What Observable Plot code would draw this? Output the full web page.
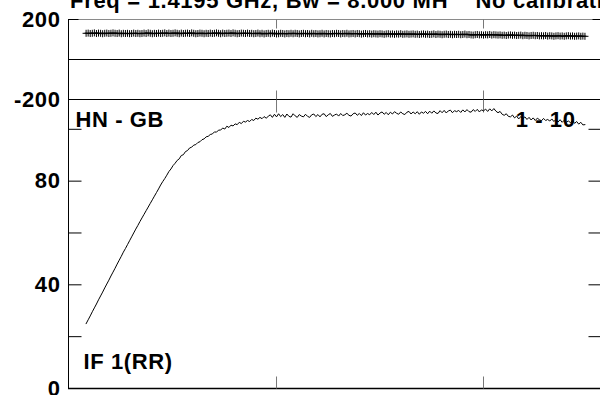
<!DOCTYPE html>
<html><head><meta charset="utf-8">
<script src="https://cdn.jsdelivr.net/npm/d3@7"></script>
<script src="https://cdn.jsdelivr.net/npm/@observablehq/plot@0.6"></script>
<style>
html,body{margin:0;padding:0;background:#fff;}
#wrap{position:relative;width:600px;height:395px;overflow:hidden;background:#fff;font-family:"Liberation Sans",Arial,sans-serif;font-weight:bold;color:#000;}
#wrap svg{position:absolute;left:0;top:0;}
#title{position:absolute;left:70px;top:-10px;font-size:22px;line-height:22px;letter-spacing:0.7px;white-space:pre;}
</style></head><body><div id="wrap"><div id="title"></div></div>
<script>
const titleText = "Freq = 1.4195 GHz, Bw = 8.000 MH    No calibration applied";
const baselineLabel = "HN - GB";
const timeLabel = "1 - 10";
const ifLabel = "IF 1(RR)";
const firstChannel = 8;
const amplitude = [
25.0,26.5,28.0,29.6,31.1,32.6,34.2,35.7,37.2,38.8,40.3,41.8,43.4,44.9,46.4,48.0,49.5,51.0,52.6,54.0,55.5,57.0,58.5,60.0,
61.5,62.9,64.4,65.8,67.2,68.6,70.0,71.4,72.8,74.2,75.6,77.0,78.5,79.8,
81.0,82.3,83.7,84.7,86.0,86.9,88.0,
88.6,89.9,90.2,91.4,91.8,
92.8,93.1,93.9,94.1,94.9,
95.2,96.0,96.3,97.1,97.3,
98.0,98.2,99.0,98.9,99.7,
99.7,100.5,100.1,101.2,100.7,101.6,101.3,
102.1,101.8,102.7,102.2,103.1,102.8,103.4,103.0,
103.8,103.4,104.3,103.9,104.6,104.1,104.9,104.3,105.0,
105.6,104.6,105.8,104.8,106.0,104.9,105.7,104.6,105.9,105.0,104.7,106.0,105.2,104.6,105.7,105.1,
104.8,105.8,105.0,104.6,105.6,105.9,104.9,105.7,104.8,105.8,106.0,104.9,105.6,106.1,105.0,105.5,
105.9,105.1,106.1,105.3,105.6,106.2,105.4,105.1,106.0,106.3,105.4,106.1,105.3,106.4,105.5,106.1,
105.6,106.5,105.7,106.6,105.5,106.3,106.7,105.8,106.5,105.6,106.6,105.9,106.8,106.2,
105.8,106.7,106.0,105.7,106.6,106.9,105.9,106.7,106.0,106.8,105.8,106.7,106.2,
106.9,106.0,107.0,106.2,107.1,106.3,106.1,107.2,106.4,107.3,106.3,107.1,107.4,106.4,107.2,106.8,
107.3,106.5,107.5,106.7,107.6,106.8,106.6,107.6,106.9,107.7,106.7,107.5,107.1,
107.8,106.9,107.9,107.1,108.0,107.0,106.4,
106.9,105.8,105.4,106.0,105.0,104.8,
105.5,104.4,105.1,104.0,104.9,104.1,
104.8,103.8,104.6,103.6,104.4,103.4,104.3,103.7,103.3,104.2,103.4,103.8,
103.2,104.0,103.0,103.8,102.8,103.7,102.7,103.5,102.8,103.2,
102.6,103.4,102.3,103.0,102.0,102.7,101.7,101.8
];
const phase = [
131,132,130,131,133,130,132,131,129,131,132,130,131,133,131,130,132,129,131,130,
131,129,130,132,130,131,129,130,132,130,133,131,129,131,130,132,130,131,133,130,
132,130,131,133,131,129,132,130,131,132,130,133,131,129,130,132,131,129,131,130,
132,130,131,133,131,129,132,130,131,132,130,133,131,129,130,132,131,130,132,130,
131,129,130,132,129,131,128,130,131,129,132,130,128,129,131,130,128,130,129,131,
129,131,130,128,130,131,129,130,128,131,129,130,128,129,131,128,130,129,128,130,
129,131,130,128,130,129,131,128,129,130,128,130,129,127,129,130,128,129,127,129,
128,127,129,128,126,128,129,127,128,126,128,127,129,126,127,128,126,127,128,126,
127,125,127,128,126,127,125,126,128,125,127,126,124,126,127,125,126,124,126,125,
126,124,125,127,124,125,123,122,124,125,123,124,122,124,123,125,122,124,123,122,
123,121,122,120,122,123,121,122,120,121,122,119,121,120,118,120,121,119,120,118,
119,118,120,117,119,118,116,118,119,117,118,116,118,119,117,118,116,117,118,116,117,116
];
const xDomain = [-0.5, 257];
const xTicks = [100, 200];
const phaseDomain = [-200, 200];
const phaseLabels = [-200, 200];
const ampDomain = [0, 111.5];
const ampTicks = [20, 40, 60, 80, 100];
const ampLabels = [0, 40, 80];

const rows = amplitude.map((a, i) => ({ch: firstChannel + i, amp: a, ph: phase[i]}));

const tickShape = {draw(ctx, l) { ctx.moveTo(0, 0); ctx.lineTo(0, -l); }};
function inTicks(values, dim, anchor, len, color) {
  const rotate = {left: 90, right: -90, top: 180, bottom: 0}[anchor];
  return Plot.vector(values, {[dim]: d => d, frameAnchor: anchor, rotate, length: len, anchor: "start",
    shape: tickShape, stroke: color, strokeWidth: 1, strokeLinecap: "butt"});
}
const baseStyle = {background: "transparent", overflow: "visible", maxWidth: "none",
  fontFamily: "'Liberation Sans', Arial, sans-serif", fontSize: "22px", fontWeight: "bold",
  letterSpacing: "0.6px", color: "black"};

const topPlot = Plot.plot({
  width: 601, height: 116, marginTop: 19, marginBottom: 17, marginLeft: 68, marginRight: 0,
  style: baseStyle,
  x: {domain: xDomain, axis: null},
  y: {domain: phaseDomain, ticks: phaseLabels, tickSize: 0, tickPadding: 8, tickFormat: d => String(d), label: null},
  marks: [
    Plot.ruleY([phaseDomain[1]], {stroke: "#8a8a8a"}),
    Plot.ruleY([0, phaseDomain[0]], {stroke: "black"}),
    Plot.ruleX([xDomain[0]], {stroke: "black"}),
    inTicks(phaseLabels, "y", "left", 10, "black"),
    inTicks(phaseLabels, "y", "right", 9, "black"),
    inTicks(xTicks, "x", "top", 9, "#777"),
    inTicks(xTicks, "x", "bottom", 9, "#777"),
    Plot.dot(rows, {x: "ch", y: "ph", symbol: "plus", r: 2.4, stroke: "black", strokeWidth: 1})
  ]
});

const bottomPlot = Plot.plot({
  width: 601, height: 395, marginTop: 99, marginBottom: 7, marginLeft: 68, marginRight: 0,
  style: baseStyle,
  x: {domain: xDomain, axis: null},
  y: {domain: ampDomain, ticks: ampLabels, tickSize: 0, tickPadding: 8, tickFormat: d => String(d), label: null},
  marks: [
    Plot.ruleY([ampDomain[0]], {stroke: "black", strokeWidth: 1.6}),
    Plot.ruleY([ampDomain[1]], {stroke: "black"}),
    Plot.ruleX([xDomain[0]], {stroke: "black"}),
    inTicks(ampTicks, "y", "left", 13, "black"),
    inTicks(ampTicks, "y", "right", 13, "black"),
    inTicks(xTicks, "x", "top", 13, "#777"),
    inTicks(xTicks, "x", "bottom", 12, "#777"),
    Plot.line(rows, {x: "ch", y: "amp", stroke: "black", strokeWidth: 1}),
    Plot.text([baselineLabel], {frameAnchor: "top-left", dx: 7, dy: 12, textAnchor: "start", lineAnchor: "top"}),
    Plot.text([timeLabel], {frameAnchor: "top-right", dx: -26, dy: 12, textAnchor: "end", lineAnchor: "top"}),
    Plot.text([ifLabel], {frameAnchor: "bottom-left", dx: 15, dy: -20, textAnchor: "start", lineAnchor: "bottom"})
  ]
});

const wrap = document.getElementById("wrap");
wrap.insertBefore(bottomPlot, wrap.firstChild);
wrap.insertBefore(topPlot, document.getElementById("title"));
document.getElementById("title").textContent = titleText;
</script></body></html>
